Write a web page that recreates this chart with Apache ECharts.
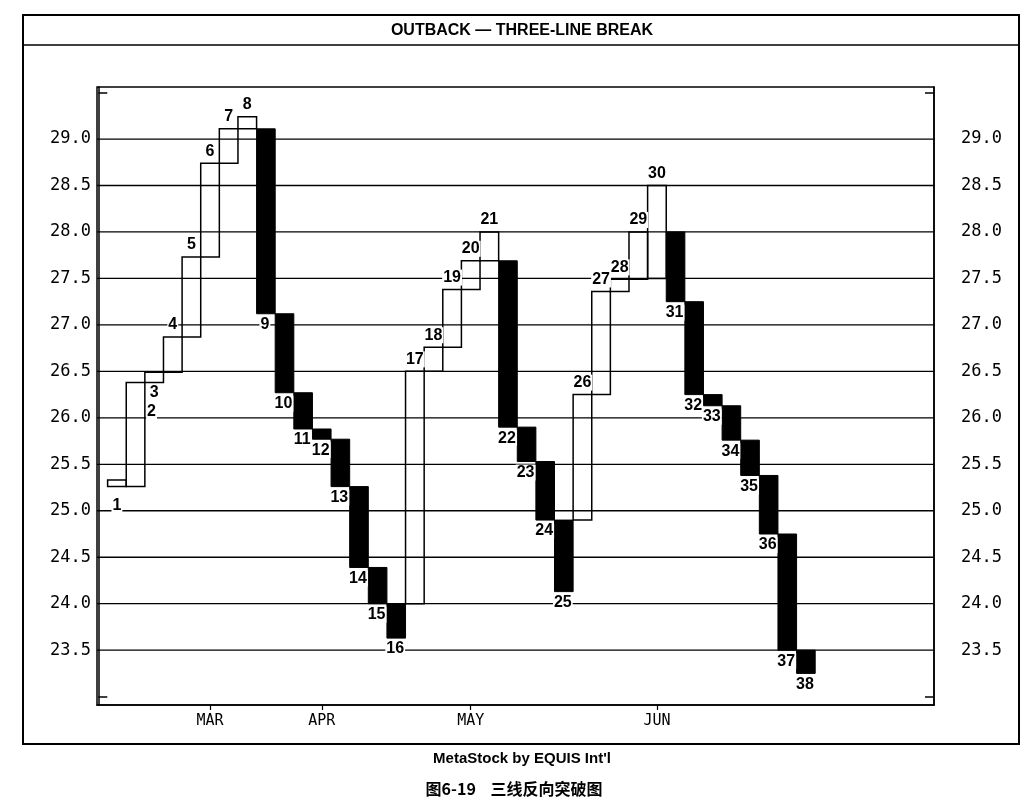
<!DOCTYPE html>
<html lang="zh">
<head>
    <meta charset="UTF-8">
    <title>三线反向突破图</title>
    <script src="https://cdn.jsdelivr.net/npm/echarts@6/dist/echarts.min.js"></script>
    <style>
        html, body { margin: 0; padding: 0; background: #fff; }
    </style>
</head>
<body>
    <div id="main" style="width: 1036px;height:808px;"></div>

    <script type="text/javascript">
        // 每一根线的起点和终点（按顺序 1..38）
        var lineStart = [25.26, 25.26, 26.38, 26.49, 26.87, 27.73, 28.74, 29.11, 29.11, 27.12,
                         26.27, 25.88, 25.77, 25.26, 24.39, 24.00, 24.00, 26.50, 26.76, 27.38,
                         27.69, 27.69, 25.90, 25.53, 24.90, 24.90, 26.25, 27.36, 27.49, 27.50,
                         28.00, 27.25, 26.25, 26.13, 25.76, 25.38, 24.75, 23.50];
        var lineEnd   = [25.33, 26.38, 26.49, 26.87, 27.73, 28.74, 29.11, 29.24, 27.12, 26.27,
                         25.88, 25.77, 25.26, 24.39, 24.00, 23.63, 26.50, 26.76, 27.38, 27.69,
                         28.00, 25.90, 25.53, 24.90, 24.13, 26.25, 27.36, 27.49, 28.00, 28.50,
                         27.25, 26.25, 26.13, 25.76, 25.38, 24.75, 23.50, 23.25];

        // 价格刻度
        var priceTicks = [23.5, 24.0, 24.5, 25.0, 25.5, 26.0, 26.5, 27.0, 27.5, 28.0, 28.5, 29.0];
        var edgeTicks = [23.0, 29.5];

        // 月份标记（所在的线序号）
        var monthNames = ['MAR', 'APR', 'MAY', 'JUN'];
        var monthPos = [6, 12, 20, 30];

        // 编号标注的特殊偏移（像素），其它按默认放置
        var labelShift = {
            1: [0, 19, 'bottom'],
            2: [16, 29, 'top'],
            3: [0, 20, 'top']
        };

        var lines = [];
        for (var i = 0; i < lineStart.length; i++) {
            lines.push([i + 1, lineStart[i], lineEnd[i]]);
        }

        function renderLine(params, api) {
            var n = api.value(0);
            var s = api.value(1);
            var e = api.value(2);
            var up = e > s;
            var p0 = api.coord([n - 0.5, Math.max(s, e)]);
            var p1 = api.coord([n + 0.5, Math.min(s, e)]);
            var cx = (p0[0] + p1[0]) / 2;
            var tx, ty;
            var shift = labelShift[n];
            if (shift) {
                tx = cx + shift[0];
                ty = (shift[2] === 'top' ? p0[1] : p1[1]) + shift[1];
            } else if (up) {
                tx = cx;
                ty = p0[1] - 12;
            } else {
                tx = cx - 1;
                ty = p1[1] + 11;
            }
            return {
                type: 'group',
                children: [{
                    type: 'rect',
                    shape: { x: p0[0], y: p0[1], width: p1[0] - p0[0], height: p1[1] - p0[1] },
                    style: up ? { fill: 'none', stroke: '#000', lineWidth: 1.5 }
                              : { fill: '#000', stroke: '#000', lineWidth: 1 }
                }, {
                    type: 'text',
                    x: tx,
                    y: ty,
                    style: {
                        text: String(n),
                        fill: '#000',
                        font: 'bold 16px "Liberation Sans", Arial, sans-serif',
                        align: 'center',
                        verticalAlign: 'middle',
                        backgroundColor: '#fff',
                        padding: [0, 1]
                    },
                    z2: 10
                }]
            };
        }

        function renderGrid(params, api) {
            var y = api.coord([0, api.value(1)])[1];
            var cs = params.coordSys;
            return {
                type: 'line',
                shape: { x1: cs.x, y1: y, x2: cs.x + cs.width, y2: y },
                style: { stroke: '#000', lineWidth: 1.3 }
            };
        }

        var yAxisBase = function (pos, margin) {
            return {
                type: 'value',
                position: pos,
                min: 22.91,
                max: 29.56,
                splitLine: { show: false },
                axisLine: { show: true, lineStyle: { color: '#000', width: 1.5 } },
                axisTick: {
                    show: true, inside: true, length: 9,
                    customValues: edgeTicks,
                    lineStyle: { color: '#000', width: 1.5 }
                },
                axisLabel: {
                    customValues: priceTicks,
                    margin: margin,
                    color: '#000',
                    fontFamily: '"DejaVu Sans Mono", monospace',
                    fontSize: 17,
                    formatter: function (v) { return v.toFixed(1); }
                }
            };
        };

        var myChart = echarts.init(document.getElementById('main'));
        myChart.setOption({
            backgroundColor: '#fff',
            animation: false,
            grid: {
                left: 97, right: 102, top: 87, bottom: 103,
                show: true, borderColor: '#000', borderWidth: 1.5
            },
            xAxis: {
                type: 'value',
                min: -0.07,
                max: 44.88,
                splitLine: { show: false },
                axisLine: { show: true, lineStyle: { color: '#000', width: 1.5 } },
                axisTick: {
                    show: true, length: 5,
                    customValues: monthPos,
                    lineStyle: { color: '#000', width: 1.2 }
                },
                axisLabel: {
                    customValues: monthPos,
                    margin: 9,
                    color: '#000',
                    fontFamily: '"DejaVu Sans Mono", monospace',
                    fontSize: 15,
                    formatter: function (v) {
                        var k = monthPos.indexOf(Math.round(v));
                        return k >= 0 ? monthNames[k] : '';
                    }
                }
            },
            yAxis: [yAxisBase('left', 6), yAxisBase('right', 27)],
            graphic: [{
                type: 'rect',
                shape: { x: 23, y: 15, width: 996, height: 729 },
                style: { fill: 'none', stroke: '#000', lineWidth: 2 },
                silent: true
            }, {
                type: 'line',
                shape: { x1: 23, y1: 45, x2: 1019, y2: 45 },
                style: { stroke: '#000', lineWidth: 1.5 },
                silent: true
            }, {
                type: 'text',
                x: 522, y: 31,
                style: {
                    text: 'OUTBACK — THREE-LINE BREAK',
                    fill: '#000',
                    font: 'bold 16px "Liberation Sans", Arial, sans-serif',
                    align: 'center', verticalAlign: 'middle'
                }
            }, {
                type: 'text',
                x: 522, y: 759,
                style: {
                    text: "MetaStock by EQUIS Int'l",
                    fill: '#000',
                    font: 'bold 15px "Liberation Sans", Arial, sans-serif',
                    align: 'center', verticalAlign: 'middle'
                }
            }, {
                type: 'text',
                x: 514, y: 789,
                style: {
                    text: '图6-19    三线反向突破图',
                    fill: '#000',
                    font: 'bold 16px "Noto Sans CJK SC", sans-serif',
                    align: 'center', verticalAlign: 'middle'
                }
            }],
            series: [{
                type: 'custom',
                name: 'grid',
                data: priceTicks.map(function (v) { return [0, v]; }),
                renderItem: renderGrid,
                silent: true,
                z: 1
            }, {
                type: 'custom',
                name: 'lines',
                data: lines,
                renderItem: renderLine,
                clip: false,
                z: 5
            }]
        });
    </script>
</body>
</html>
